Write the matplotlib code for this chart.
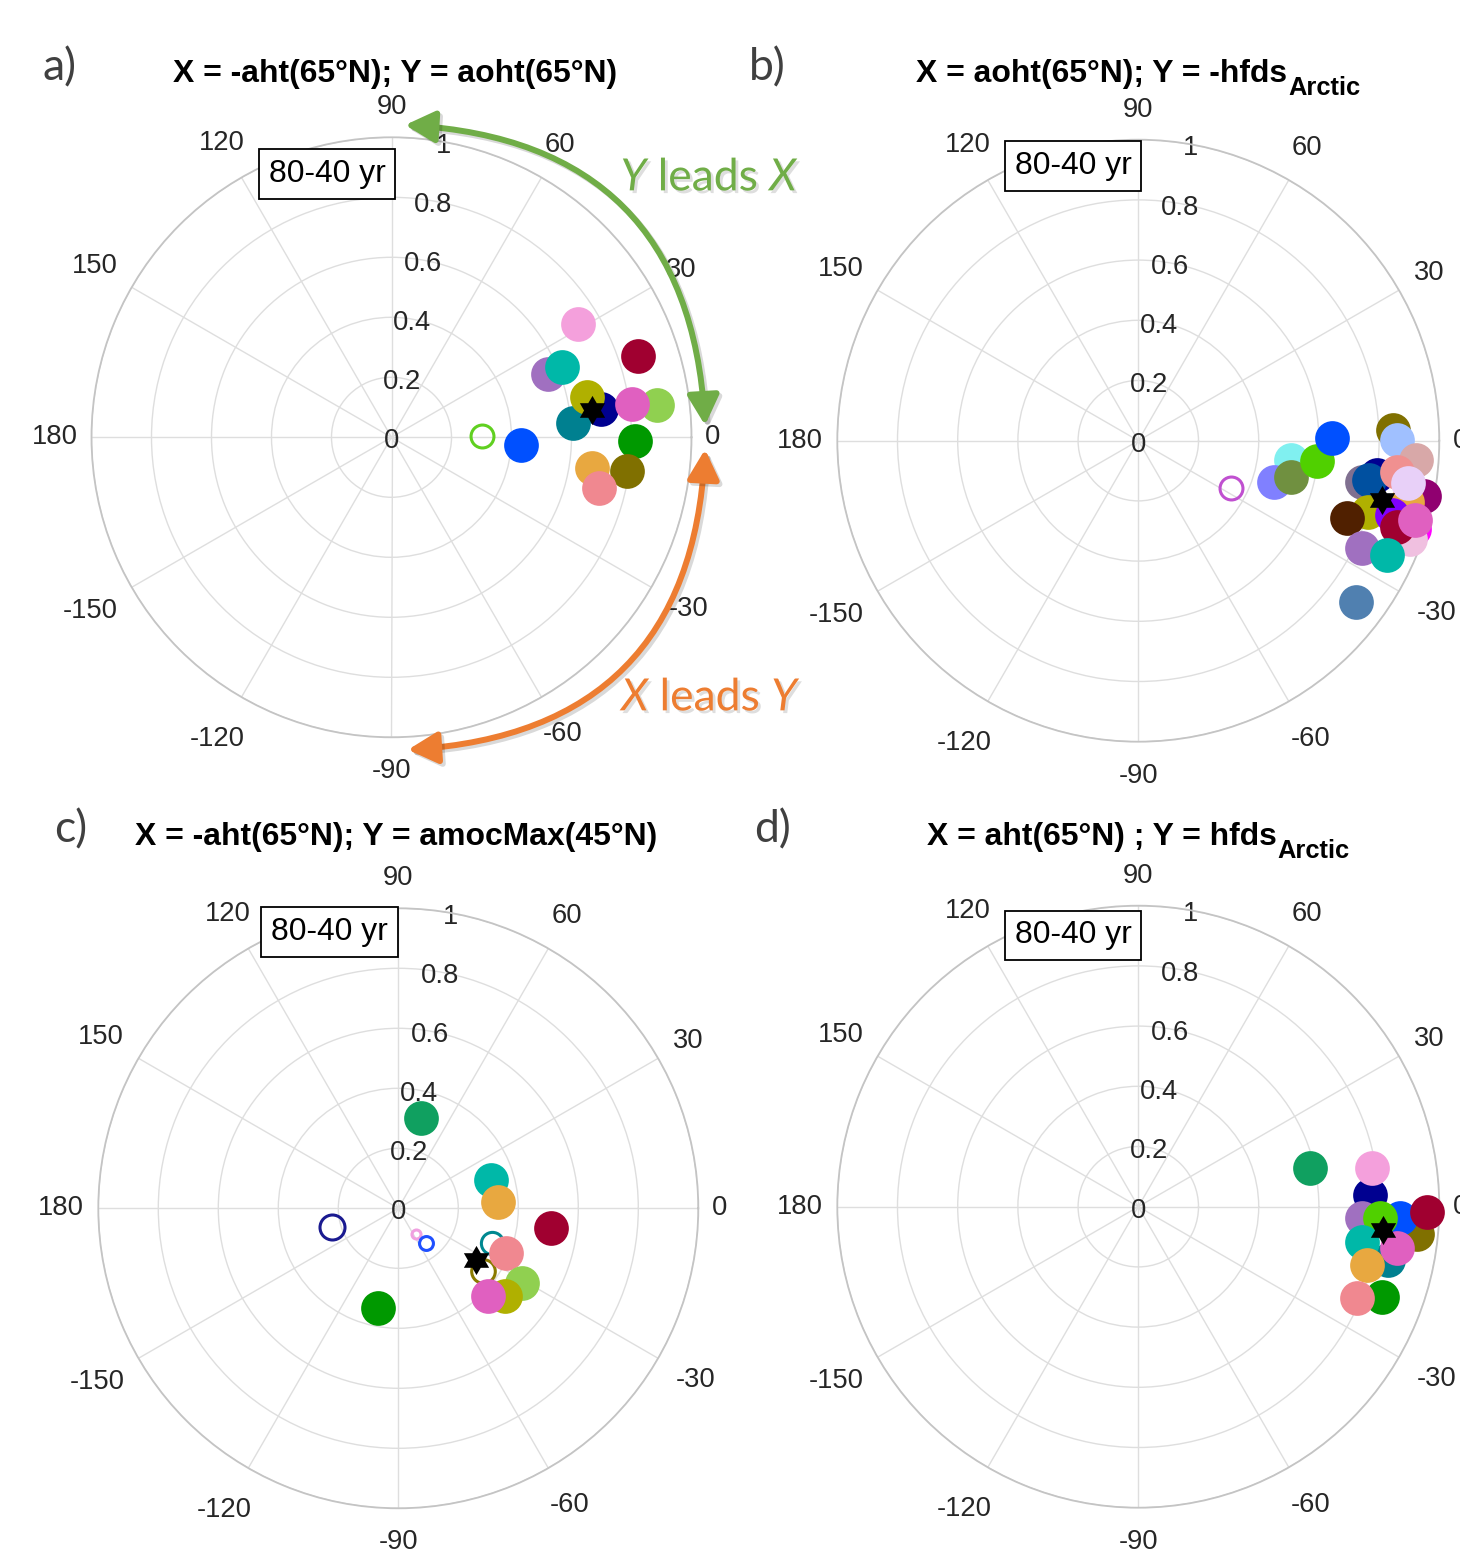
import numpy as np
import matplotlib
matplotlib.use('Agg')
import matplotlib.pyplot as plt
import matplotlib.patheffects as pe
from matplotlib.patches import FancyArrowPatch, ArrowStyle
from matplotlib import font_manager as fm
from matplotlib.transforms import offset_copy

def has_font(name):
    try:
        fm.findfont(fm.FontProperties(family=name), fallback_to_default=False)
        return True
    except Exception:
        return False

NARROW = has_font('Liberation Sans Narrow')
MFONT = ['Liberation Sans Narrow', 'Liberation Sans', 'DejaVu Sans'] if NARROW else ['Liberation Sans', 'DejaVu Sans']
SC = 1.0 if NARROW else 0.82

plt.rcParams['font.family'] = MFONT
plt.rcParams['mathtext.fontset'] = 'custom'
plt.rcParams['mathtext.rm'] = 'Lato'
plt.rcParams['mathtext.it'] = 'Lato:italic'

# ---------------- data (phase in degrees, coherence) ----------------
theta_ticks = [0, 30, 60, 90, 120, 150, 180, 210, 240, 270, 300, 330]
theta_labels = ['0', '30', '60', '90', '120', '150', '180', '-150', '-120', '-90', '-60', '-30']
r_ticks = [0, 0.2, 0.4, 0.6, 0.8, 1.0]
r_labels = ['0', '0.2', '0.4', '0.6', '0.8', '1']

title_main = ['X = -aht(65°N); Y = aoht(65°N)',
              'X = aoht(65°N); Y = -hfds',
              'X = -aht(65°N); Y = amocMax(45°N)',
              'X = aht(65°N) ; Y = hfds']
title_sub = ['', 'Arctic', '', 'Arctic']
panel_letters = ['a)', 'b)', 'c)', 'd)']
band_label = '80-40 yr'

# panel a
a_phase = [21.9, 22.4, 31.3, 18.3, 7.8, 4.4, 11.5, 6.95, 7.8, -0.9, -3.5, -8.6, -8.1, -13.8]
a_coh = [0.562, 0.615, 0.729, 0.865, 0.705, 0.607, 0.666, 0.89, 0.81, 0.811, 0.431, 0.677, 0.794, 0.712]
a_colors = ['#a070c0', '#00b8a8', '#f4a0dc', '#a00030', '#000090', '#008090', '#b0b000',
            '#90d050', '#e060c0', '#009900', '#0050ff', '#e8a840', '#807000', '#f08890']
a_open_phase = [0.8]
a_open_coh = [0.302]
a_open_colors = ['#60d020']
a_open_size = [16.5]
a_mean = (7.7, 0.673)

# panel b
b_phase = [-7.2, -16.8, -13.3, -6.5, 0.9, 2.4, 0.2, -4.0, -10.4, -8.2, -9.7, -11.2, -10.9,
           -17.7, -19.9, -12.8, -6.8, -9.0, -17.2, -20.4, -16.3, -18.4, -16.0, -25.7, -24.7, -36.5]
b_coh = [0.511, 0.472, 0.521, 0.597, 0.645, 0.848, 0.860, 0.925, 0.755, 0.800, 0.778, 0.950, 0.965,
         0.960, 0.960, 0.914, 0.865, 0.908, 0.800, 0.739, 0.877, 0.905, 0.956, 0.824, 0.908, 0.900]
b_colors = ['#80f0f0', '#8080ff', '#709040', '#50d000', '#0050ff', '#807000', '#a0c0ff', '#d8a8a8',
            '#807090', '#000090', '#0050a0', '#207050', '#900070', '#ff00ff', '#f0c0e0', '#e8a840',
            '#f09090', '#e8d0f8', '#b0b000', '#502000', '#8000ff', '#a00030', '#e060c0', '#a070c0',
            '#00b8a8', '#5080b0']
b_open_phase = [-27.2]
b_open_coh = [0.346]
b_open_colors = ['#c050d0']
b_open_size = [16.5]
b_mean = (-13.7, 0.832)

# panel c
c_phase = [75.9, 17.0, 3.8, -7.3, -22.7, -31.3, -39.4, -44.4, -101.4]
c_coh = [0.311, 0.323, 0.332, 0.512, 0.388, 0.481, 0.460, 0.417, 0.338]
c_colors = ['#10a060', '#00b8a8', '#e8a840', '#a00030', '#f08890', '#90d050', '#b0b000',
            '#e060c0', '#009900']
c_open_phase = [-164.4, -55.4, -52.0, -20.5, -36.3]
c_open_coh = [0.228, 0.104, 0.148, 0.333, 0.352]
c_open_colors = ['#1a1a90', '#f0a0e0', '#2050ff', '#008890', '#8a7a00']
c_open_size = [18, 6.5, 10, 16, 17]
c_mean = (-33.6, 0.311)

# panel d
d_phase = [12.6, 2.9, 9.5, -3.0, -5.5, -2.5, -1.0, -2.7, -12.0, -8.9, -9.1, -14.3, -20.3, -22.8]
d_coh = [0.586, 0.771, 0.786, 0.743, 0.929, 0.870, 0.958, 0.804, 0.849, 0.751, 0.870, 0.783, 0.862, 0.787]
d_colors = ['#10a060', '#000090', '#f4a0dc', '#a070c0', '#807000', '#0050ff', '#a00030', '#50d000',
            '#008090', '#00b8a8', '#e060c0', '#e8a840', '#009900', '#f08890']
d_open_phase, d_open_coh, d_open_colors, d_open_size = [], [], [], []
d_mean = (-5.4, 0.818)

panel_data = [
    (a_phase, a_coh, a_colors, a_open_phase, a_open_coh, a_open_colors, a_open_size, a_mean),
    (b_phase, b_coh, b_colors, b_open_phase, b_open_coh, b_open_colors, b_open_size, b_mean),
    (c_phase, c_coh, c_colors, c_open_phase, c_open_coh, c_open_colors, c_open_size, c_mean),
    (d_phase, d_coh, d_colors, d_open_phase, d_open_coh, d_open_colors, d_open_size, d_mean),
]

# ---------------- layout ----------------
W, H = 1460, 1551
fig = plt.figure(figsize=(W / 100, H / 100), dpi=100)
renderer = fig.canvas.get_renderer()

geom = [(391.5, 437.3, 300), (1138.3, 440.7, 301), (398.3, 1208.3, 300), (1138.3, 1206.7, 301)]
title_pos = [(395, 82), (1138, 82), (396, 845), (1138, 845)]
letter_pos = [(59, 68), (767, 68), (71, 830), (773, 830)]
box_pos = [(327, 174), (1073, 166), (329.5, 932), (1073, 935.5)]
# pixel gap between outer circle and theta-label centres
label_gap = [21, 35, 37, 30, 40, 43, 37, 48, 48, 34, 43, 43]

ang = np.deg2rad(np.arange(12) * 30 + 90)
rad = np.where(np.arange(12) % 2 == 0, 1.0, 0.58)
star_verts = list(zip(rad * np.cos(ang), rad * np.sin(ang)))

TXT = '#262626'
fs_tick = 24 * SC

def fx(x):
    return x / W

def fy(y):
    return 1 - y / H

axes = []
for i, ((cx, cy, R), data) in enumerate(zip(geom, panel_data)):
    ax = fig.add_axes([(cx - R) / W, 1 - (cy + R) / H, 2 * R / W, 2 * R / H], projection='polar')
    axes.append(ax)
    ax.set_ylim(0, 1)
    ax.set_yticks(r_ticks[1:])
    ax.set_yticklabels([])
    ax.set_xticks(np.deg2rad(theta_ticks))
    ax.set_xticklabels([])
    ax.tick_params(length=0)
    ax.grid(True, color='#dedede', lw=1.0)
    ax.spines['polar'].set_color('#c4c4c4')
    ax.spines['polar'].set_linewidth(1.3)

    # theta labels
    for t, lab, g in zip(theta_ticks, theta_labels, label_gap):
        th = np.deg2rad(t)
        ax.text(th, 1 + g / R, lab, ha='center', va='center', fontsize=fs_tick,
                color=TXT, clip_on=False)
    # radial labels
    rtrans = offset_copy(ax.transData, fig=fig, x=0, y=-4, units='dots')
    for rv, lab in zip(r_ticks, r_labels):
        ax.text(np.deg2rad(80), rv, lab, ha='center', va='center', fontsize=fs_tick,
                color=TXT, clip_on=False, zorder=2, transform=rtrans)

    ph, co, cols, oph, oco, ocol, osz, mean = data
    for t, r, c, s in zip(oph, oco, ocol, osz):
        ax.plot(np.deg2rad(t), r, 'o', ms=s, mfc='none', mec=c, mew=2.2, zorder=3, clip_on=False)
    for t, r, c in zip(ph, co, cols):
        ax.plot(np.deg2rad(t), r, 'o', ms=25, mfc=c, mec=c, mew=0, zorder=4, clip_on=False)
    ax.plot(np.deg2rad(mean[0]), mean[1], marker=star_verts, ms=21, color='black',
            mew=0, zorder=6, clip_on=False)

    # title (main + optional subscript), centred as a whole
    fs_title = 28 * SC
    t_main = fig.text(0, fy(title_pos[i][1]), title_main[i], ha='left', va='baseline',
                      fontsize=fs_title, fontweight='bold', color='black')
    w_main = t_main.get_window_extent(renderer).width
    w_sub = 0
    t_sub = None
    if title_sub[i]:
        t_sub = fig.text(0, fy(title_pos[i][1] + 13), title_sub[i], ha='left', va='baseline',
                         fontsize=fs_title * 0.8, fontweight='bold', color='black')
        w_sub = t_sub.get_window_extent(renderer).width
    x0 = title_pos[i][0] - (w_main + w_sub) / 2
    t_main.set_x(fx(x0))
    if t_sub is not None:
        t_sub.set_x(fx(x0 + w_main + 1))

    fig.text(fx(letter_pos[i][0]), fy(letter_pos[i][1]), panel_letters[i], ha='center', va='center',
             fontsize=32, family=['Lato', 'DejaVu Sans'], color='#404040')
    fig.text(fx(box_pos[i][0]), fy(box_pos[i][1]), band_label, ha='center', va='center',
             fontsize=28 * SC, color='black',
             bbox=dict(boxstyle='square,pad=0.3', fc='white', ec='black', lw=1.3), zorder=10)

# ---------------- lead/lag arrows on panel a ----------------
ax = axes[0]
shadow_line = [pe.SimpleLineShadow(offset=(2, -2), shadow_color='black', alpha=0.15), pe.Normal()]
astyle = ArrowStyle('<|-|>', head_length=0.6, head_width=0.32)
green = '#70ad47'
orange = '#ed7d31'
arr1 = FancyArrowPatch(posA=(np.deg2rad(2.2), 1.046), posB=(np.deg2rad(87.5), 1.042),
                       transform=ax.transData, connectionstyle='arc3,rad=0.445',
                       arrowstyle=astyle, mutation_scale=30, color=green, lw=4.3,
                       shrinkA=0, shrinkB=0, clip_on=False, zorder=7, path_effects=shadow_line)
ax.add_patch(arr1)
arr2 = FancyArrowPatch(posA=(np.deg2rad(-2.2), 1.046), posB=(np.deg2rad(-87.0), 1.043),
                       transform=ax.transData, connectionstyle='arc3,rad=-0.445',
                       arrowstyle=astyle, mutation_scale=30, color=orange, lw=4.3,
                       shrinkA=0, shrinkB=0, clip_on=False, zorder=7, path_effects=shadow_line)
ax.add_patch(arr2)

shadow_txt = [pe.SimplePatchShadow(offset=(2, -2), shadow_rgbFace='black', alpha=0.13), pe.Normal()]
fig.text(fx(710), fy(178), r'$\mathit{Y}$ leads $\mathit{X}$', ha='center', va='center',
         fontsize=32, family=['Lato', 'DejaVu Sans'], color=green, path_effects=shadow_txt)
fig.text(fx(712), fy(698), r'$\mathit{X}$ leads $\mathit{Y}$', ha='center', va='center',
         fontsize=32, family=['Lato', 'DejaVu Sans'], color=orange, path_effects=shadow_txt)

fig.savefig('out.png', dpi=100, facecolor='white')
